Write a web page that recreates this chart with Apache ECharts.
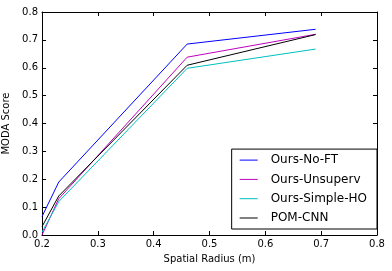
<!DOCTYPE html>
<html>
<head>
<meta charset="utf-8">
<script src="https://cdn.jsdelivr.net/npm/echarts@6/dist/echarts.min.js"></script>
<style>html,body{margin:0;padding:0;background:#fff}#c{width:392px;height:271px}</style>
</head>
<body>
<div id="c"></div>
<script>
const radius = [0.2, 0.23, 0.46, 0.69];
const noFT = [0.066, 0.19, 0.685, 0.738];
const unsuperv = [0.0, 0.13, 0.638, 0.72];
const simpleHO = [0.01, 0.12, 0.598, 0.667];
const pomCNN = [0.03, 0.14, 0.609, 0.719];
const seriesNames = ['Ours-No-FT', 'Ours-Unsuperv', 'Ours-Simple-HO', 'POM-CNN'];
const seriesColors = ['#0000ff', '#bf00bf', '#00bfbf', '#000000'];
const seriesData = [noFT, unsuperv, simpleHO, pomCNN];

const font = 'DejaVu Sans';
const chart = echarts.init(document.getElementById('c'), null, {renderer: 'canvas'});
const baseAxis = {
  type: 'value', min: 0.2, max: 0.8, interval: 0.1,
  axisLine: {show: true, onZero: false, lineStyle: {color: '#000', width: 1}},
  axisTick: {show: true, inside: true, length: 4, lineStyle: {color: '#000'}},
  splitLine: {show: false}
};
chart.setOption({
  animation: false,
  grid: {left: 42, right: 15, top: 12, bottom: 36, containLabel: false, outerBoundsMode: 'none'},
  xAxis: [
    Object.assign({}, baseAxis, {
      position: 'bottom',
      name: 'Spatial Radius (m)', nameLocation: 'middle', nameGap: 19,
      nameTextStyle: {fontFamily: font, fontSize: 10, color: '#000'},
      axisLabel: {fontFamily: font, fontSize: 10, color: '#000', margin: 4, formatter: v => v.toFixed(1)}
    }),
    Object.assign({}, baseAxis, {position: 'top', axisLabel: {show: false}})
  ],
  yAxis: [
    Object.assign({}, baseAxis, {
      min: 0, max: 0.8, position: 'left',
      name: 'MODA Score', nameLocation: 'middle', nameGap: 23,
      nameTextStyle: {fontFamily: font, fontSize: 10, color: '#000'},
      axisLabel: {fontFamily: font, fontSize: 10, color: '#000', margin: 4, formatter: v => v.toFixed(1)}
    }),
    Object.assign({}, baseAxis, {min: 0, max: 0.8, position: 'right', axisLabel: {show: false}})
  ],
  legend: {
    orient: 'vertical', right: 15, bottom: 42,
    padding: [5, 10, 5, 8],
    borderColor: '#000', borderWidth: 1, borderRadius: 0,
    backgroundColor: '#fff',
    icon: 'rect',
    itemWidth: 18, itemHeight: 1, itemGap: 7.3,
    itemStyle: {borderWidth: 0},
    textStyle: {fontFamily: font, fontSize: 12, color: '#000', padding: [0, 0, 0, 8], lineHeight: 12},
    data: seriesNames
  },
  series: seriesNames.map((n, i) => ({
    name: n, type: 'line', xAxisIndex: 0, yAxisIndex: 0,
    data: radius.map((x, j) => [x, seriesData[i][j]]),
    showSymbol: false, symbol: 'none',
    color: seriesColors[i],
    lineStyle: {width: 1, color: seriesColors[i]}
  }))
});
</script>
</body>
</html>
